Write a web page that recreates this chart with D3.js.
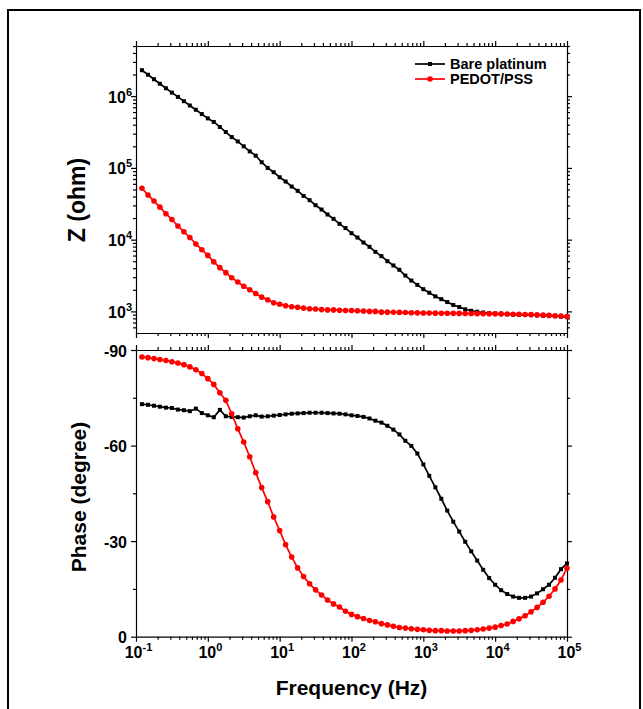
<!DOCTYPE html>
<html>
<head>
<meta charset="utf-8">
<script src="https://cdn.jsdelivr.net/npm/d3@7"></script>
<style>
  body { margin: 0; background: white; }
  svg text { font-family: "Liberation Sans", Arial, sans-serif; font-weight: bold; fill: black; }
  .domain { stroke: black; stroke-width: 1.2; }
  .tick line { stroke: black; stroke-width: 1.2; }
</style>
</head>
<body>
<svg width="643" height="709"></svg>
<script>
// frequency points (Hz)
const freqs = [0.121, 0.147, 0.178, 0.215, 0.261, 0.316, 0.383, 0.464, 0.562, 0.681, 0.825,
  1, 1.21, 1.47, 1.78, 2.15, 2.61, 3.16, 3.83, 4.64, 5.62, 6.81, 8.25,
  10, 12.1, 14.7, 17.8, 21.5, 26.1, 31.6, 38.3, 46.4, 56.2, 68.1, 82.5,
  100, 121, 147, 178, 215, 261, 316, 383, 464, 562, 681, 825,
  1000, 1210, 1470, 1780, 2150, 2610, 3160, 3830, 4640, 5620, 6810, 8250,
  10000, 12100, 14700, 17800, 21500, 26100, 31600, 38300, 46400, 56200, 68100, 82500,
  100000];

// |Z| (ohm)
const zBare = [2.30e6, 1.99e6, 1.72e6, 1.49e6, 1.29e6, 1.12e6, 9.77e5, 8.51e5, 7.41e5, 6.46e5, 5.62e5,
  4.90e5, 4.37e5, 3.72e5, 3.16e5, 2.69e5, 2.34e5, 2.00e5, 1.70e5, 1.48e5, 1.20e5, 1.00e5, 8.71e4,
  7.41e4, 6.46e4, 5.50e4, 4.79e4, 4.07e4, 3.55e4, 3.02e4, 2.63e4, 2.24e4, 1.95e4, 1.66e4, 1.45e4,
  1.23e4, 1.07e4, 9120, 7940, 6760, 5890, 5010, 4370, 3800, 3160, 2690, 2340,
  2040, 1820, 1620, 1480, 1350, 1230, 1150, 1070, 1020, 989, 966, 944,
  933, 923, 912, 902, 895, 891, 887, 881, 875, 867, 857, 847,
  832];
const zPedot = [52000, 42000, 34500, 28400, 23000, 19100, 15500, 12900, 10700, 8710, 7240,
  6030, 4900, 4070, 3470, 2950, 2570, 2240, 2000, 1780, 1580, 1450, 1320,
  1260, 1200, 1160, 1140, 1110, 1090, 1080, 1060, 1050, 1050, 1040, 1030,
  1030, 1020, 1010, 1000, 1000, 977, 977, 973, 968, 964, 959, 955,
  951, 948, 946, 944, 942, 940, 938, 935, 933, 931, 929, 927,
  925, 923, 918, 914, 910, 906, 902, 895, 887, 879, 871, 861,
  851];

// phase (degree)
const phBare = [-73.0, -72.8, -72.5, -72.2, -71.9, -71.8, -71.3, -71.1, -70.8, -71.6, -70.2,
  -69.5, -68.9, -71.2, -69.2, -69.0, -68.9, -68.8, -69.2, -69.5, -69.1, -69.2, -69.4,
  -69.6, -69.8, -70.0, -70.1, -70.2, -70.3, -70.3, -70.3, -70.2, -70.1, -70.0, -69.8,
  -69.5, -69.3, -69.0, -68.5, -67.8, -67.2, -66.2, -65.0, -63.5, -61.5, -59.9, -57.5,
  -54.1, -50.5, -46.9, -43.3, -39.6, -36.1, -33.0, -29.8, -26.8, -23.9, -21.0, -18.4,
  -16.3, -14.6, -13.4, -12.6, -12.2, -12.2, -12.6, -13.6, -14.9, -16.3, -18.5, -21.2,
  -23.0];
const phPedot = [-87.8, -87.6, -87.3, -87.0, -86.7, -86.3, -85.9, -85.4, -84.7, -83.8, -82.6,
  -81.0, -79.2, -76.6, -74.2, -70.0, -65.3, -61.1, -56.5, -51.5, -46.8, -42.4, -37.6,
  -33.3, -28.9, -25.0, -21.6, -18.9, -16.6, -14.7, -13.1, -11.5, -10.3, -9.3, -8.0,
  -7.0, -6.3, -5.7, -5.1, -4.7, -4.1, -3.7, -3.3, -2.9, -2.7, -2.5, -2.3,
  -2.2, -2.0, -1.9, -1.9, -1.8, -1.8, -1.8, -1.9, -2.0, -2.2, -2.4, -2.7,
  -3.0, -3.5, -4.0, -4.8, -5.6, -6.6, -7.8, -9.2, -10.8, -12.7, -15.0, -17.8,
  -21.5];

const seriesNames = ["Bare platinum", "PEDOT/PSS"];
const seriesColors = ["black", "#ff0000"];

// tick labels
const freqExps = [-1, 0, 1, 2, 3, 4, 5];
const zExps = [3, 4, 5, 6];
const phaseTicks = [-90, -60, -30, 0];
const phaseMinor = [-75, -45, -15];

const svg = d3.select("svg");

// 바깥 테두리
svg.append("rect")
  .attr("x", 8).attr("y", 10)
  .attr("width", 632).attr("height", 720)
  .attr("fill", "none").attr("stroke", "black").attr("stroke-width", 2);

const left = 136, right = 567;

const x = d3.scaleLog().domain([0.1, 1e5]).range([left, right]);
const yZ = d3.scaleLog().domain([500, 5e6]).range([333, 46]);
const yP = d3.scaleLinear().domain([0, -90]).range([636.7, 350]);

// minor ticks
const xMinor = [];
for (let e = -1; e < 5; e++) for (let m = 2; m <= 9; m++) xMinor.push(m * Math.pow(10, e));
const zMinor = [600, 700, 800, 900];
for (let e = 3; e <= 6; e++) for (let m = 2; m <= 9; m++) {
  const v = m * Math.pow(10, e);
  if (v <= 5e6) zMinor.push(v);
}

function drawAxes(g, axisFn, scale, major, minor, pos) {
  g.append("g").attr("transform", pos)
    .call(axisFn(scale).tickValues(minor).tickSize(3).tickFormat(""))
    .call(a => a.select(".domain").remove());
  return g.append("g").attr("transform", pos)
    .call(axisFn(scale).tickValues(major).tickSize(5).tickSizeOuter(0).tickFormat(""));
}

function powLabel(sel, base, exp) {
  sel.append("tspan").text(base);
  sel.append("tspan").attr("dy", -7).attr("font-size", 11).text(exp);
}

// 위쪽 패널 (|Z|)
const topPanel = svg.append("g");
const zMajor = zExps.map(e => Math.pow(10, e));
const xMajor = freqExps.map(e => Math.pow(10, e));

const zLeft = drawAxes(topPanel, d3.axisLeft, yZ, zMajor, zMinor, `translate(${left},0)`);
drawAxes(topPanel, d3.axisRight, yZ, zMajor, zMinor, `translate(${right},0)`);
drawAxes(topPanel, d3.axisBottom, x, xMajor, xMinor, `translate(0,333)`);
drawAxes(topPanel, d3.axisTop, x, xMajor, xMinor, `translate(0,46)`);

zLeft.selectAll(".tick").each(function(d, i) {
  const t = d3.select(this).append("text")
    .attr("x", -4).attr("y", 6)
    .attr("text-anchor", "end")
    .attr("font-size", 16);
  powLabel(t, "10", zExps[i]);
});

// 아래쪽 패널 (phase)
const botPanel = svg.append("g");
const pLeft = drawAxes(botPanel, d3.axisLeft, yP, phaseTicks, phaseMinor, `translate(${left},0)`);
drawAxes(botPanel, d3.axisRight, yP, phaseTicks, phaseMinor, `translate(${right},0)`);
const xBottom = drawAxes(botPanel, d3.axisBottom, x, xMajor, xMinor, `translate(0,636.7)`);
drawAxes(botPanel, d3.axisTop, x, xMajor, xMinor, `translate(0,350)`);

pLeft.selectAll(".tick").append("text")
  .attr("x", -9).attr("y", 6)
  .attr("text-anchor", "end")
  .attr("font-size", 16)
  .text(d => d);

xBottom.selectAll(".tick").each(function(d, i) {
  const t = d3.select(this).append("text")
    .attr("x", 2).attr("y", 21)
    .attr("text-anchor", "middle")
    .attr("font-size", 16);
  powLabel(t, "10", freqExps[i]);
});

// axis titles
svg.append("text")
  .attr("transform", "translate(85,200) rotate(-90)")
  .attr("text-anchor", "middle")
  .attr("font-size", 23)
  .text("Z (ohm)");

svg.append("text")
  .attr("transform", "translate(86,497) rotate(-90)")
  .attr("text-anchor", "middle")
  .attr("font-size", 21)
  .text("Phase (degree)");

svg.append("text")
  .attr("x", (left + right) / 2).attr("y", 695)
  .attr("text-anchor", "middle")
  .attr("font-size", 21)
  .text("Frequency (Hz)");

// 데이터 그리기
function drawSeries(g, yScale, values, color, shape) {
  const pts = freqs.map((f, i) => [f, values[i]]);
  g.append("path")
    .datum(pts)
    .attr("fill", "none")
    .attr("stroke", color)
    .attr("stroke-width", 1.7)
    .attr("d", d3.line().x(d => x(d[0])).y(d => yScale(d[1])));
  if (shape === "square") {
    g.selectAll(null).data(pts).enter().append("rect")
      .attr("x", d => x(d[0]) - 2).attr("y", d => yScale(d[1]) - 2)
      .attr("width", 4).attr("height", 4)
      .attr("fill", color);
  } else {
    g.selectAll(null).data(pts).enter().append("circle")
      .attr("cx", d => x(d[0])).attr("cy", d => yScale(d[1]))
      .attr("r", 2.8)
      .attr("fill", color);
  }
}

drawSeries(topPanel, yZ, zBare, seriesColors[0], "square");
drawSeries(topPanel, yZ, zPedot, seriesColors[1], "circle");
drawSeries(botPanel, yP, phBare, seriesColors[0], "square");
drawSeries(botPanel, yP, phPedot, seriesColors[1], "circle");

// 범례
const legend = svg.append("g");
seriesNames.forEach((name, i) => {
  const ly = 64 + i * 15;
  legend.append("line")
    .attr("x1", 415).attr("x2", 445).attr("y1", ly).attr("y2", ly)
    .attr("stroke", seriesColors[i]).attr("stroke-width", 1.7);
  if (i === 0) {
    legend.append("rect").attr("x", 428).attr("y", ly - 2).attr("width", 4).attr("height", 4)
      .attr("fill", seriesColors[i]);
  } else {
    legend.append("circle").attr("cx", 430).attr("cy", ly).attr("r", 2.8)
      .attr("fill", seriesColors[i]);
  }
  legend.append("text")
    .attr("x", 450).attr("y", ly + 5)
    .attr("font-size", 14.5)
    .text(name);
});
</script>
</body>
</html>
